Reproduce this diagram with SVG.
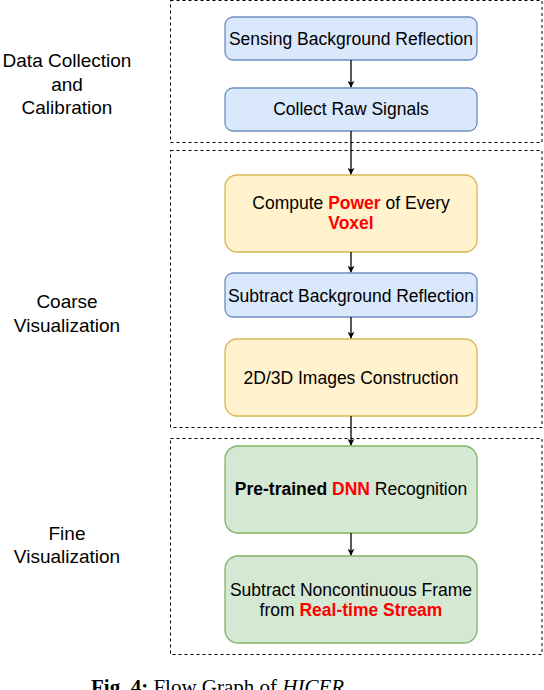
<svg xmlns="http://www.w3.org/2000/svg" width="544" height="690" viewBox="0 0 544 690">
<defs>
<style>
.grp{fill:none;stroke:#000;stroke-width:1;stroke-dasharray:3 3}
.blue{fill:#dae8fc;stroke:#6c8ebf;stroke-width:1.3}
.yel{fill:#fff2cc;stroke:#d6b656;stroke-width:1.3}
.grn{fill:#d5e8d4;stroke:#82b366;stroke-width:1.3}
text{font-family:"Liberation Sans",Arial,sans-serif;font-size:17.5px;fill:#000;text-anchor:middle}
.lbl{font-size:19px}
.red{fill:#ff0000;font-weight:bold}
.b{font-weight:bold}
.edge{stroke:#000;stroke-width:1.3;fill:none;marker-end:url(#arr)}
.cap{font-family:"Liberation Serif","Times New Roman",serif;font-size:21px;text-anchor:start}
</style>
<marker id="arr" viewBox="0 0 10 10" refX="9" refY="5" markerWidth="7" markerHeight="7" markerUnits="userSpaceOnUse" orient="auto">
<path d="M0,0 L10,5 L0,10 L3,5 Z" fill="#000"/>
</marker>
</defs>
<g id="groups">
<rect class="grp" x="170.5" y="0.5" width="371.5" height="142"/>
<rect class="grp" x="170.5" y="150.5" width="371.5" height="277"/>
<rect class="grp" x="170.5" y="438.5" width="371.5" height="216"/>
</g>
<g id="labels">
<text class="lbl" x="67" y="67">Data Collection</text>
<text class="lbl" x="67" y="91">and</text>
<text class="lbl" x="67" y="114">Calibration</text>
<text class="lbl" x="67" y="308">Coarse</text>
<text class="lbl" x="67" y="332">Visualization</text>
<text class="lbl" x="67" y="540">Fine</text>
<text class="lbl" x="67" y="563">Visualization</text>
</g>
<g id="n1"><rect class="blue" x="225" y="17" width="252" height="43" rx="8"/><text x="351" y="45">Sensing Background Reflection</text></g>
<g id="n2"><rect class="blue" x="225" y="88" width="252" height="43" rx="8"/><text x="351" y="115">Collect Raw Signals</text></g>
<g id="n3"><rect class="yel" x="225" y="175" width="252" height="77" rx="12"/><text x="351" y="209">Compute <tspan class="red">Power</tspan> of Every</text><text x="351" y="229" class="red">Voxel</text></g>
<g id="n4"><rect class="blue" x="225" y="273" width="252" height="44" rx="8"/><text x="351" y="302">Subtract Background Reflection</text></g>
<g id="n5"><rect class="yel" x="225" y="339" width="252" height="77" rx="12"/><text x="351" y="384">2D/3D Images Construction</text></g>
<g id="n6"><rect class="grn" x="225" y="446" width="252" height="87" rx="13"/><text x="351" y="495"><tspan class="b">Pre-trained </tspan><tspan class="red">DNN</tspan> Recognition</text></g>
<g id="n7"><rect class="grn" x="225" y="556" width="252" height="87" rx="13"/><text x="351" y="596">Subtract Noncontinuous Frame</text><text x="351" y="616">from <tspan class="red">Real-time Stream</tspan></text></g>
<g id="connectors">
<line class="edge" x1="351" y1="60" x2="351" y2="87"/>
<line class="edge" x1="351" y1="131" x2="351" y2="174"/>
<line class="edge" x1="351" y1="252" x2="351" y2="272"/>
<line class="edge" x1="351" y1="317" x2="351" y2="338"/>
<line class="edge" x1="351" y1="416" x2="351" y2="445"/>
<line class="edge" x1="351" y1="533" x2="351" y2="555"/>
</g>
<text class="cap" x="91" y="694"><tspan font-weight="bold">Fig. 4:</tspan> Flow Graph of <tspan font-style="italic">HICER</tspan>.</text>
</svg>
